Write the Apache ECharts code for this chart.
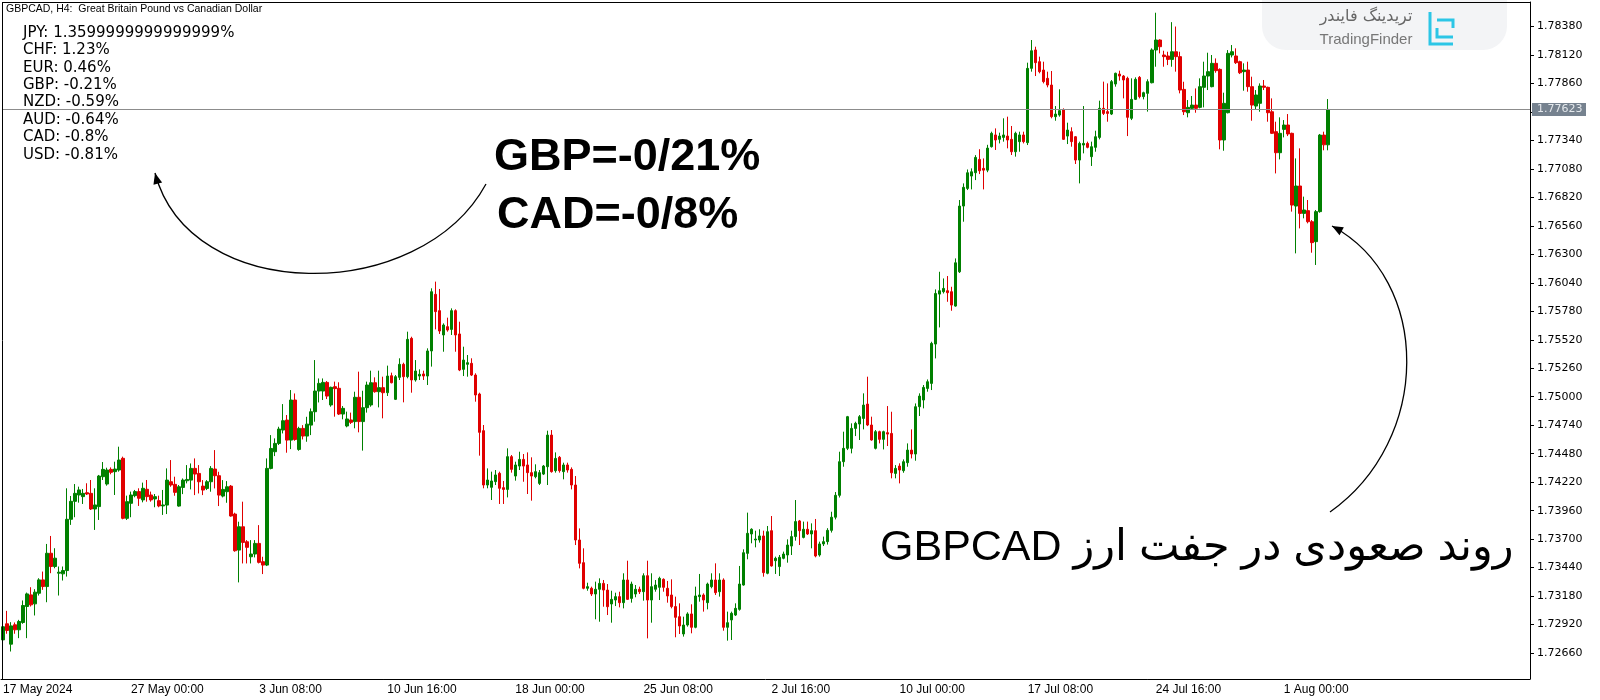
<!DOCTYPE html>
<html><head><meta charset="utf-8">
<script src="https://cdn.jsdelivr.net/npm/echarts@6/dist/echarts.min.js"></script>
<style>html,body{margin:0;padding:0;background:#fff}#c{width:1600px;height:700px}</style>
</head><body><div id="c"></div><script>
// ---- data (H4 candles, GBPCAD, 17 May 2024 16:00 -> 2 Aug 2024 20:00) ----
const opens=[1.72780,1.72927,1.72741,1.72918,1.72872,1.72939,1.73085,1.73191,1.73109,1.73206,
1.73328,1.73267,1.73571,1.73450,1.73389,1.73383,1.73413,1.73881,1.74045,1.74103,
1.74088,1.74124,1.74118,1.73975,1.73997,1.74270,1.74203,1.74337,1.74316,1.74331,
1.74438,1.73890,1.74027,1.74097,1.74134,1.74058,1.74155,1.74103,1.74067,1.74051,
1.74003,1.74011,1.74224,1.74200,1.74002,1.74172,1.74233,1.74239,1.74346,1.74300,
1.74184,1.74163,1.74224,1.74340,1.74279,1.74093,1.74133,1.74184,1.73929,1.73600,
1.73813,1.73676,1.73539,1.73564,1.73661,1.73494,1.73463,1.74346,1.74498,1.74574,
1.74696,1.74787,1.74604,1.74970,1.74519,1.74711,1.74641,1.74741,1.74863,1.75052,
1.75052,1.75131,1.74925,1.75092,1.75077,1.74842,1.74733,1.74788,1.74773,1.74995,
1.74773,1.74900,1.74925,1.75128,1.75046,1.75083,1.75037,1.75192,1.74976,1.75177,
1.75296,1.75183,1.75533,1.75153,1.75189,1.75208,1.75189,1.75418,1.75935,1.75786,
1.75564,1.75640,1.75615,1.75786,1.75573,1.75250,1.75296,1.75305,1.75198,1.75025,
1.74690,1.74194,1.74173,1.74225,1.74301,1.74170,1.74154,1.74453,1.74276,1.74367,
1.74428,1.74377,1.74307,1.74270,1.74209,1.74294,1.74361,1.74650,1.74325,1.74447,
1.74316,1.74377,1.74337,1.74194,1.73692,1.73485,1.73251,1.73251,1.73199,1.73242,
1.73296,1.73235,1.73108,1.73144,1.73175,1.73120,1.73327,1.73159,1.73199,1.73242,
1.73220,1.73366,1.73144,1.73242,1.73260,1.73333,1.73251,1.73190,1.73084,1.72992,
1.72834,1.72916,1.73017,1.72895,1.73175,1.73190,1.73120,1.73266,1.73327,1.73220,
1.73327,1.72895,1.72962,1.73007,1.73059,1.73281,1.73570,1.73747,1.73692,1.73692,
1.73729,1.73388,1.73777,1.73503,1.73449,1.73525,1.73555,1.73637,1.73723,1.73866,
1.73716,1.73790,1.73747,1.73777,1.73555,1.73656,1.73677,1.73780,1.73900,1.74100,
1.74407,1.74529,1.74529,1.74711,1.74751,1.74802,1.74933,1.74742,1.74529,1.74681,
1.74611,1.74672,1.74665,1.74300,1.74367,1.74325,1.74398,1.74513,1.74477,1.74909,
1.74970,1.75076,1.75122,1.75481,1.75937,1.75959,1.75968,1.75959,1.75828,1.76141,
1.76741,1.76902,1.77015,1.77045,1.77167,1.77085,1.77069,1.77283,1.77390,1.77350,
1.77368,1.77380,1.77350,1.77237,1.77329,1.77390,1.77320,1.77998,1.78166,1.78059,
1.77983,1.77907,1.77846,1.77557,1.77572,1.77618,1.77380,1.77420,1.77374,1.77161,
1.77298,1.77313,1.77192,1.77277,1.77368,1.77633,1.77603,1.77581,1.77855,1.77946,
1.77928,1.77907,1.77542,1.77715,1.77916,1.77740,1.77770,1.77867,1.78166,1.78257,
1.78120,1.78111,1.78080,1.78150,1.78105,1.77806,1.77593,1.77633,1.77663,1.77642,
1.77825,1.77928,1.77831,1.78044,1.77989,1.77344,1.77593,1.78120,1.78111,1.78059,
1.77968,1.77983,1.77831,1.77654,1.77679,1.77837,1.77825,1.77602,1.77420,1.77228,
1.77441,1.77481,1.77405,1.76741,1.76924,1.76674,1.76699,1.76598,1.76416,1.76690,
1.77389,1.77300];
const closes=[1.72900,1.72866,1.72908,1.72872,1.72948,1.73094,1.73200,1.73100,1.73216,1.73328,
1.73267,1.73571,1.73450,1.73526,1.73398,1.73413,1.73881,1.74045,1.74118,1.74149,
1.74118,1.74112,1.73975,1.74012,1.74276,1.74337,1.74331,1.74310,1.74340,1.74422,
1.73890,1.74042,1.74103,1.74134,1.74073,1.74164,1.74088,1.74058,1.74088,1.74003,
1.74012,1.74239,1.74194,1.74127,1.74178,1.74239,1.74245,1.74346,1.74294,1.74224,
1.74148,1.74224,1.74346,1.74279,1.74102,1.74154,1.74178,1.73911,1.73594,1.73813,
1.73670,1.73625,1.73564,1.73661,1.73488,1.73463,1.74346,1.74528,1.74574,1.74705,
1.74781,1.74604,1.74970,1.74610,1.74711,1.74641,1.74750,1.74863,1.75052,1.75122,
1.75131,1.75006,1.75086,1.75074,1.74842,1.74894,1.74797,1.74766,1.74995,1.74773,
1.74900,1.75107,1.75128,1.75046,1.75083,1.75037,1.75189,1.75128,1.75183,1.75296,
1.75183,1.75524,1.75153,1.75235,1.75205,1.75189,1.75418,1.75959,1.75777,1.75600,
1.75655,1.75609,1.75786,1.75564,1.75244,1.75335,1.75311,1.75198,1.75016,1.74675,
1.74194,1.74240,1.74231,1.74286,1.74164,1.74154,1.74453,1.74337,1.74377,1.74428,
1.74367,1.74307,1.74276,1.74316,1.74307,1.74367,1.74650,1.74316,1.74437,1.74325,
1.74377,1.74331,1.74194,1.73692,1.73479,1.73251,1.73266,1.73199,1.73242,1.73296,
1.73235,1.73083,1.73150,1.73175,1.73120,1.73327,1.73150,1.73290,1.73242,1.73220,
1.73366,1.73144,1.73266,1.73281,1.73342,1.73260,1.73181,1.73084,1.72986,1.72907,
1.72916,1.73017,1.72895,1.73181,1.73190,1.73144,1.73290,1.73327,1.73211,1.73327,
1.72895,1.72937,1.73023,1.73068,1.73290,1.73576,1.73753,1.73790,1.73701,1.73729,
1.73394,1.73768,1.73455,1.73525,1.73534,1.73564,1.73646,1.73723,1.73860,1.73777,
1.73790,1.73747,1.73777,1.73546,1.73656,1.73677,1.73780,1.73900,1.74100,1.74407,
1.74529,1.74818,1.74711,1.74757,1.74818,1.74924,1.74742,1.74605,1.74681,1.74611,
1.74681,1.74659,1.74306,1.74346,1.74331,1.74407,1.74513,1.74477,1.74909,1.75006,
1.75085,1.75137,1.75487,1.75943,1.75968,1.75989,1.75950,1.75837,1.76223,1.76741,
1.76912,1.77045,1.77054,1.77185,1.77063,1.77069,1.77270,1.77405,1.77344,1.77380,
1.77390,1.77344,1.77237,1.77405,1.77390,1.77329,1.77998,1.78159,1.78050,1.77968,
1.77877,1.77846,1.77557,1.77581,1.77612,1.77350,1.77435,1.77329,1.77161,1.77313,
1.77313,1.77277,1.77283,1.77374,1.77633,1.77587,1.77587,1.77877,1.77953,1.77928,
1.77892,1.77551,1.77715,1.77898,1.77740,1.77776,1.77877,1.78166,1.78257,1.78196,
1.78105,1.78080,1.78150,1.78105,1.77800,1.77602,1.77642,1.77663,1.77633,1.77831,
1.77928,1.77968,1.78044,1.77977,1.77344,1.77679,1.78135,1.78150,1.78050,1.77958,
1.77983,1.77831,1.77663,1.77755,1.77837,1.77825,1.77593,1.77405,1.77228,1.77405,
1.77481,1.77399,1.76750,1.76924,1.76674,1.76705,1.76598,1.76407,1.76690,1.77389,
1.77300,1.77623];
const lows=[1.72700,1.72836,1.72674,1.72836,1.72796,1.72927,1.72796,1.73085,1.73003,1.73185,
1.73237,1.73124,1.73389,1.73434,1.73185,1.73322,1.73358,1.73830,1.73900,1.74033,
1.74021,1.74103,1.73966,1.73784,1.73875,1.74240,1.74188,1.74292,1.74103,1.74316,
1.73881,1.73875,1.73900,1.74082,1.74003,1.74036,1.74042,1.74042,1.73991,1.73991,
1.73921,1.73929,1.74178,1.74096,1.73996,1.74111,1.74209,1.74154,1.74102,1.74117,
1.74102,1.74148,1.74133,1.74163,1.74002,1.74081,1.74032,1.73905,1.73585,1.73305,
1.73478,1.73478,1.73478,1.73533,1.73478,1.73381,1.73454,1.74337,1.74458,1.74559,
1.74665,1.74489,1.74522,1.74598,1.74507,1.74610,1.74589,1.74650,1.74772,1.74948,
1.74970,1.74979,1.74909,1.74818,1.74833,1.74794,1.74721,1.74751,1.74712,1.74675,
1.74508,1.74855,1.74909,1.75037,1.74903,1.74803,1.75007,1.75122,1.74970,1.75153,
1.74949,1.75168,1.75037,1.75138,1.75153,1.75153,1.75107,1.75275,1.75615,1.75573,
1.75411,1.75594,1.75564,1.75411,1.75234,1.75189,1.75183,1.75189,1.74955,1.74462,
1.74164,1.74164,1.74057,1.74194,1.74021,1.74021,1.74081,1.74307,1.74234,1.74331,
1.74224,1.74112,1.74051,1.74255,1.74194,1.74285,1.74194,1.74307,1.74307,1.74307,
1.74246,1.74307,1.74154,1.73646,1.73433,1.73242,1.73229,1.73181,1.72968,1.72946,
1.73083,1.73007,1.72937,1.73089,1.73077,1.73068,1.73144,1.73120,1.73169,1.73199,
1.73138,1.72794,1.72937,1.73220,1.73144,1.73220,1.73120,1.73068,1.72804,1.72834,
1.72810,1.72901,1.72840,1.72886,1.73129,1.73038,1.73059,1.73251,1.73190,1.73175,
1.72864,1.72773,1.72779,1.72998,1.73047,1.73275,1.73516,1.73662,1.73625,1.73668,
1.73357,1.73379,1.73449,1.73382,1.73363,1.73516,1.73485,1.73555,1.73686,1.73646,
1.73707,1.73738,1.73616,1.73534,1.73540,1.73637,1.73650,1.73760,1.73880,1.74080,
1.74361,1.74513,1.74483,1.74641,1.74605,1.74702,1.74732,1.74599,1.74519,1.74574,
1.74519,1.74550,1.74255,1.74255,1.74209,1.74306,1.74361,1.74437,1.74416,1.74824,
1.74894,1.75046,1.75061,1.75350,1.75633,1.75943,1.75867,1.75785,1.75822,1.76130,
1.76598,1.76887,1.76893,1.76978,1.77033,1.76893,1.77050,1.77275,1.77253,1.77313,
1.77329,1.77268,1.77207,1.77192,1.77237,1.77313,1.77298,1.77968,1.77928,1.77953,
1.77861,1.77825,1.77542,1.77520,1.77557,1.77344,1.77307,1.77283,1.77125,1.76948,
1.77222,1.77268,1.77107,1.77237,1.77350,1.77572,1.77511,1.77572,1.77831,1.77886,
1.77724,1.77380,1.77526,1.77709,1.77724,1.77715,1.77603,1.77861,1.78013,1.78135,
1.78013,1.78028,1.78013,1.77968,1.77770,1.77572,1.77551,1.77618,1.77593,1.77633,
1.77642,1.77800,1.77825,1.77958,1.77259,1.77246,1.77587,1.78098,1.78038,1.77946,
1.77794,1.77785,1.77520,1.77618,1.77602,1.77800,1.77511,1.77399,1.77039,1.77167,
1.77368,1.77380,1.76690,1.76309,1.76537,1.76629,1.76583,1.76315,1.76203,1.76680,
1.77250,1.77250];
const highs=[1.72930,1.73045,1.72942,1.72939,1.72963,1.73140,1.73212,1.73261,1.73243,1.73343,
1.73404,1.73656,1.73729,1.73617,1.73450,1.73450,1.74164,1.74094,1.74203,1.74179,
1.74158,1.74210,1.74240,1.74164,1.74286,1.74404,1.74352,1.74355,1.74407,1.74544,
1.74453,1.74097,1.74134,1.74149,1.74164,1.74216,1.74240,1.74134,1.74112,1.74097,
1.74149,1.74346,1.74422,1.74270,1.74194,1.74254,1.74376,1.74391,1.74437,1.74376,
1.74239,1.74239,1.74367,1.74513,1.74315,1.74239,1.74230,1.74194,1.73941,1.73859,
1.74042,1.73691,1.73691,1.73691,1.73828,1.73539,1.74437,1.74650,1.74620,1.74726,
1.74933,1.74833,1.75061,1.75030,1.74726,1.74741,1.74817,1.74893,1.75335,1.75167,
1.75167,1.75143,1.75092,1.75138,1.75132,1.74915,1.74864,1.74855,1.75046,1.75229,
1.75055,1.75138,1.75238,1.75177,1.75238,1.75183,1.75284,1.75220,1.75198,1.75351,
1.75311,1.75594,1.75548,1.75335,1.75250,1.75238,1.75442,1.75990,1.76051,1.75984,
1.75670,1.75722,1.75807,1.75798,1.75685,1.75457,1.75381,1.75351,1.75214,1.75037,
1.74742,1.74346,1.74316,1.74331,1.74316,1.74231,1.74529,1.74468,1.74407,1.74498,
1.74477,1.74492,1.74447,1.74383,1.74331,1.74377,1.74690,1.74696,1.74492,1.74459,
1.74398,1.74398,1.74355,1.74276,1.73798,1.73616,1.73302,1.73266,1.73312,1.73342,
1.73327,1.73290,1.73229,1.73211,1.73220,1.73388,1.73503,1.73312,1.73281,1.73266,
1.73388,1.73503,1.73388,1.73327,1.73357,1.73342,1.73318,1.73333,1.73175,1.73114,
1.72992,1.73032,1.73105,1.73266,1.73382,1.73205,1.73303,1.73388,1.73479,1.73388,
1.73342,1.73038,1.73038,1.73114,1.73455,1.73607,1.73942,1.73799,1.73777,1.73790,
1.73777,1.73820,1.73911,1.73540,1.73555,1.73586,1.73698,1.73777,1.74057,1.73875,
1.73860,1.73860,1.73844,1.73884,1.73677,1.73723,1.73800,1.73950,1.74130,1.74498,
1.74681,1.74825,1.74757,1.74772,1.74833,1.75031,1.75183,1.74818,1.74696,1.74690,
1.74690,1.74915,1.74863,1.74376,1.74392,1.74428,1.74574,1.74702,1.74939,1.75031,
1.75107,1.75158,1.75502,1.75980,1.76141,1.76080,1.76102,1.76004,1.76263,1.76796,
1.76948,1.77075,1.77085,1.77206,1.77260,1.77176,1.77300,1.77420,1.77450,1.77411,
1.77542,1.77557,1.77472,1.77420,1.77420,1.77420,1.78050,1.78257,1.78196,1.78105,
1.78059,1.77968,1.77974,1.77654,1.77807,1.77633,1.77502,1.77460,1.77380,1.77329,
1.77654,1.77329,1.77329,1.77429,1.77703,1.77877,1.77861,1.77892,1.77959,1.77977,
1.77937,1.77922,1.77907,1.77916,1.77928,1.77785,1.77898,1.78181,1.78506,1.78263,
1.78159,1.78150,1.78420,1.78380,1.78150,1.77876,1.77709,1.77746,1.77815,1.77907,
1.78059,1.78141,1.78120,1.78089,1.77998,1.77776,1.78165,1.78211,1.78181,1.78068,
1.78044,1.78059,1.77922,1.77800,1.77861,1.77892,1.77831,1.77724,1.77511,1.77551,
1.77526,1.77581,1.77411,1.77176,1.77268,1.76827,1.76796,1.76613,1.76705,1.77399,
1.77420,1.77718];
const tickLabels=['17 May 2024','27 May 00:00','3 Jun 08:00','10 Jun 16:00','18 Jun 00:00','25 Jun 08:00','2 Jul 16:00','10 Jul 00:00','17 Jul 08:00','24 Jul 16:00','1 Aug 00:00'];
const priceTicks=[1.78380,1.78120,1.77860,1.77600,1.77340,1.77080,1.76820,1.76560,1.76300,1.76040,1.75780,1.75520,1.75260,1.75000,1.74740,1.74480,1.74220,1.73960,1.73700,1.73440,1.73180,1.72920,1.72660];
const currentPrice=1.77623;
const strengthLines=['JPY: 1.3599999999999999%','CHF: 1.23%','EUR: 0.46%','GBP: -0.21%','NZD: -0.59%','AUD: -0.64%','CAD: -0.8%','USD: -0.81%'];
const titleText='GBPCAD, H4:  Great Britain Pound vs Canadian Dollar';
const note1='GBP=-0/21%';
const note2='CAD=-0/8%';
const persianNote='GBPCAD روند صعودی در جفت ارز';
const logoFa='تریدینگ فایندر';
const logoEn='TradingFinder';

// ---- categories: H4 bars, weekdays only, plus empty chart-shift slots ----
const MONTHS=['Jan','Feb','Mar','Apr','May','Jun','Jul','Aug','Sep','Oct','Nov','Dec'];
const categories=[];
(function(){let t=Date.UTC(2024,4,17,16);while(categories.length<opens.length){const d=new Date(t);const wd=d.getUTCDay();if(wd!==0&&wd!==6){categories.push(d.getUTCDate()+' '+MONTHS[d.getUTCMonth()]+' '+String(d.getUTCHours()).padStart(2,'0')+':00');}t+=4*3600e3;}})();
const SHIFT=50;
for(let i=0;i<SHIFT;i++)categories.push('');
const candleData=opens.map((o,i)=>[o,closes[i],lows[i],highs[i]]);
// the current-price box hides the axis label that it overlaps
const labelTicks=priceTicks.filter(v=>Math.abs(v-currentPrice)>0.0008);

const chart=echarts.init(document.getElementById('c'),null,{renderer:'canvas'});
const GREEN='#008000',RED='#e00000';

function arrowHead(tx,ty,fx,fy,len,half){const dx=tx-fx,dy=ty-fy;const L=Math.hypot(dx,dy);const ux=dx/L,uy=dy/L;const bx=tx-ux*len,by=ty-uy*len;return [[tx,ty],[bx-uy*half,by+ux*half],[bx+uy*half,by-ux*half]];}
const A1={x1:486,y1:184,cpx1:420,cpy1:305,cpx2:190,cpy2:305,x2:155,y2:173};
const A2={x1:1330,y1:512,cpx1:1432,cpy1:440,cpx2:1432,cpy2:280,x2:1332,y2:226};

chart.setOption({
 animation:false,
 backgroundColor:'#fff',
 grid:{left:0,right:70,top:2,bottom:21,containLabel:false},
 xAxis:{type:'category',data:categories,boundaryGap:true,
  axisLine:{show:true,lineStyle:{color:'#000',width:1}},
  axisTick:{show:false},
  axisLabel:{interval:(i)=>i%32===0&&i<opens.length,formatter:(v,i)=>tickLabels[i/32]||'',align:'left',margin:5,
   fontFamily:'Liberation Sans',fontSize:12,color:'#000'},
  splitLine:{show:false}},
 yAxis:{type:'value',position:'right',min:1.72423,max:1.78604,scale:true,
  axisLine:{show:true,onZero:false,lineStyle:{color:'#000',width:1}},
  axisTick:{show:true,length:4,customValues:priceTicks,lineStyle:{color:'#000'}},
  axisLabel:{customValues:labelTicks,formatter:(v)=>v.toFixed(5),fontFamily:'DejaVu Sans',fontSize:11,color:'#000',margin:7},
  splitLine:{show:false}},
 series:[{type:'candlestick',data:candleData,barWidth:3,
  itemStyle:{color:GREEN,color0:RED,borderColor:GREEN,borderColor0:RED,borderWidth:1}}]
});

const yCur=Math.round(chart.convertToPixel({yAxisIndex:0},currentPrice))+0.5;

const graphics=[
 {type:'line',shape:{x1:2.5,y1:2,x2:2.5,y2:679},style:{stroke:'#000',lineWidth:1},z:10},
 {type:'line',shape:{x1:2,y1:2.5,x2:1530,y2:2.5},style:{stroke:'#000',lineWidth:1},z:10},
 {type:'line',shape:{x1:2,y1:yCur,x2:1530,y2:yCur},style:{stroke:'#8c8c8c',lineWidth:1},z:3},
 {type:'rect',shape:{x:1532,y:yCur-6.5,width:54,height:13},style:{fill:'#76828f'},z:20},
 {type:'text',x:1537,y:yCur,style:{text:currentPrice.toFixed(5),font:'11px "DejaVu Sans", sans-serif',fill:'#e4e8ec',textVerticalAlign:'middle'},z:21},
 {type:'text',x:6,y:9,style:{text:titleText,font:'10.5px "Liberation Sans", sans-serif',fill:'#000',textVerticalAlign:'middle'},z:10},
 {type:'bezierCurve',shape:A1,style:{stroke:'#000',lineWidth:1.3,fill:null},z:10},
 {type:'polygon',shape:{points:arrowHead(A1.x2,A1.y2,A1.cpx2,A1.cpy2,11,4.5)},style:{fill:'#000'},z:10},
 {type:'bezierCurve',shape:A2,style:{stroke:'#000',lineWidth:1.3,fill:null},z:10},
 {type:'polygon',shape:{points:arrowHead(A2.x2,A2.y2,A2.cpx2,A2.cpy2,11,4.5)},style:{fill:'#000'},z:10},
 {type:'text',x:494,y:158,style:{text:note1,font:'bold 45px "Liberation Sans", Arial, sans-serif',fill:'#000',textVerticalAlign:'middle'},z:10},
 {type:'text',x:497,y:216,style:{text:note2,font:'bold 45px "Liberation Sans", Arial, sans-serif',fill:'#000',textVerticalAlign:'middle'},z:10},
 {type:'text',x:880,y:548,style:{text:persianNote,font:'43px "Liberation Sans", "DejaVu Sans", sans-serif',fill:'#000',textVerticalAlign:'middle'},z:10},
 // logo panel
 {type:'rect',shape:{x:1262,y:-30,width:245,height:80,r:24},style:{fill:'#f3f4f6'},z:5},
 {type:'text',x:1366,y:17,style:{text:logoFa,font:'16px "DejaVu Sans", sans-serif',fill:'#666',textAlign:'center',textVerticalAlign:'middle'},z:6},
 {type:'text',x:1366,y:40,style:{text:logoEn,font:'15px "Liberation Sans", sans-serif',fill:'#777',textAlign:'center',textVerticalAlign:'middle'},z:6},
 {type:'polyline',shape:{points:[[1430,12],[1430,44],[1453,44]]},style:{stroke:'#2cc6e6',lineWidth:3,fill:null},z:6},
 {type:'polyline',shape:{points:[[1437,28],[1437,37],[1453,37]]},style:{stroke:'#2cc6e6',lineWidth:3,fill:null},z:6},
 {type:'polyline',shape:{points:[[1437,20],[1453,20],[1453,28]]},style:{stroke:'#2cc6e6',lineWidth:3,fill:null},z:6}
];
strengthLines.forEach((s,i)=>graphics.push({type:'text',x:23,y:33+i*17.4,style:{text:s,font:'15px "DejaVu Sans", sans-serif',fill:'#000',textVerticalAlign:'middle'},z:10}));
chart.setOption({graphic:graphics});
</script></body></html>
